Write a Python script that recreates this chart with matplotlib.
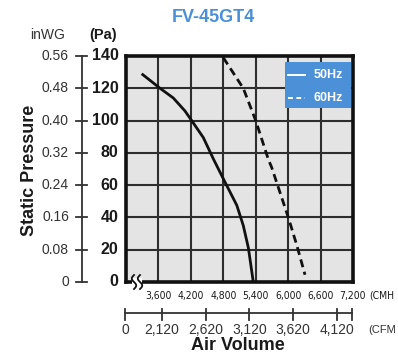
import matplotlib
matplotlib.use("Agg")
import numpy as np
import matplotlib.pyplot as plt
import matplotlib.transforms as mtransforms
from matplotlib import font_manager as fm

# ---- data ----
title = "FV-45GT4"
hz50_x = [3290, 3630, 3875, 4090, 4215, 4430, 4620, 4830, 5050, 5170, 5265, 5355]
hz50_y = [129, 120, 114, 106, 100, 89.5, 76, 62, 47.5, 35, 21, 0]
hz60_x = [4800, 5170, 5400, 5633, 5695, 6003, 6158, 6312]
hz60_y = [139, 120, 100, 76, 71, 40, 23, 4.5]
cmh_ticks = [3600, 4200, 4800, 5400, 6000, 6600, 7200]
cmh_labels = ["3,600", "4,200", "4,800", "5,400", "6,000", "6,600", "7,200"]
cfm_ticks = [2120, 2620, 3120, 3620, 4120]
cfm_labels = ["2,120", "2,620", "3,120", "3,620", "4,120"]
pa_ticks = [0, 20, 40, 60, 80, 100, 120, 140]
inwg_labels = ["0", "0.08", "0.16", "0.24", "0.32", "0.40", "0.48", "0.56"]

W, H = 398, 356
fig = plt.figure(figsize=(W / 100, H / 100), dpi=100)
fig.patch.set_facecolor("white")
sans = ["Liberation Sans", "DejaVu Sans"]

# pick a narrow font if available
narrow_kw = dict(family=sans, fontsize=7.9)
unit_kw = dict(family=sans, fontsize=7.4)
try:
    fm.findfont(fm.FontProperties(family="Liberation Sans Narrow"), fallback_to_default=False)
    narrow_kw = dict(family=["Liberation Sans Narrow"] + sans, fontsize=8.5)
    unit_kw = narrow_kw
except Exception:
    try:
        f = fm.findfont(fm.FontProperties(family="DejaVu Sans", stretch="condensed"),
                        fallback_to_default=False)
        if "Condensed" in f:
            narrow_kw = dict(family=["DejaVu Sans"], stretch="condensed", fontsize=7.5)
            unit_kw = narrow_kw
    except Exception:
        pass

def fx(px):
    return px / W

def fy(py):
    return 1 - py / H

AL, AR, AT, AB = 126, 353, 56, 282
ax = fig.add_axes([fx(AL), fy(AB), fx(AR) - fx(AL), fy(AT) - fy(AB)])
ax.set_facecolor("#e4e4e4")
ax.set_xlim(3000, 7200)
ax.set_ylim(0, 140)
for x in cmh_ticks[:-1]:
    ax.axvline(x, color="#2e2e2e", lw=1.5, zorder=1)
for y in pa_ticks[1:-1]:
    ax.axhline(y, color="#2e2e2e", lw=1.5, zorder=1)
for s in ax.spines.values():
    s.set_linewidth(2.6)
    s.set_color("#111111")
ax.set_xticks([])
ax.set_yticks([])

ax.plot(hz50_x, hz50_y, color="#111111", lw=2.0, zorder=3, solid_capstyle="butt")
ax.plot(hz60_x, hz60_y, color="#111111", lw=2.0, zorder=3, dashes=(2.9, 1.7))

# axis-break squiggles on bottom frame
pix = mtransforms.IdentityTransform()
def to_disp(px, py):
    return (px, H - py)
gap = plt.Rectangle(to_disp(132, 287), 10, 9, transform=pix, facecolor="white",
                    edgecolor="none", zorder=10, clip_on=False)
fig.add_artist(gap)
t = np.linspace(0, 1, 30)
for x0 in (134.0, 140.0):
    xs = x0 + 2.2 * np.sin(t * 2 * np.pi)
    ys = 289 - 14 * t
    fig.add_artist(plt.Line2D(xs, H - ys, transform=pix, color="#111111", lw=1.3,
                              zorder=11))

# legend box
lt = ax.transAxes
ax.add_patch(plt.Rectangle((0.700, 0.769), 0.29, 0.206, transform=lt,
                           facecolor="#4c90d8", edgecolor="none", zorder=6))
ax.plot([0.714, 0.789], [0.916, 0.916], transform=lt, color="white", lw=1.4, zorder=7)
ax.plot([0.714, 0.789], [0.813, 0.813], transform=lt, color="white", lw=1.4,
        dashes=(2.5, 1.8), zorder=7)
ax.text(0.955, 0.916, "50Hz", transform=lt, color="white", ha="right", va="center",
        fontsize=9, fontweight="bold", family=sans, zorder=7)
ax.text(0.955, 0.813, "60Hz", transform=lt, color="white", ha="right", va="center",
        fontsize=9, fontweight="bold", family=sans, zorder=7)

# title
fig.text(fx(213), fy(18), title, color="#4a90d9", fontsize=13, fontweight="bold",
         ha="center", va="center", family=sans)

# left scales
btr = mtransforms.blended_transform_factory(fig.transFigure, ax.transData)
lx = fx(82)
fig.add_artist(plt.Line2D([lx, lx], [0, 140], transform=btr, color="#333333", lw=1.3))
for v, lab in zip(pa_ticks, inwg_labels):
    fig.add_artist(plt.Line2D([fx(76), fx(87)], [v, v], transform=btr,
                              color="#333333", lw=1.3))
    fig.text(fx(118.5), v, str(v), transform=btr, ha="right", va="center",
             fontsize=11.5, fontweight="bold", family=sans, color="#1a1a1a")
    fig.text(fx(69), v, lab, transform=btr, ha="right", va="center",
             fontsize=10, family=sans, color="#333333")
fig.text(fx(48), fy(35), "inWG", ha="center", va="center", fontsize=10,
         family=sans, color="#333333")
fig.text(fx(103), fy(35), "(Pa)", ha="center", va="center", fontsize=10.5,
         fontweight="bold", family=sans, color="#1a1a1a")
fig.text(fx(30), fy(170), "Static Pressure", rotation=90, ha="center", va="center",
         fontsize=13, fontweight="bold", family=sans, color="#1a1a1a")

# bottom CMH labels
btx = mtransforms.blended_transform_factory(ax.transData, fig.transFigure)
for x, lab in zip(cmh_ticks, cmh_labels):
    fig.text(x, fy(296), lab, transform=btx, ha="center", va="center",
             color="#1a1a1a", **narrow_kw)
fig.text(fx(369), fy(296), "(CMH", ha="left", va="center", color="#1a1a1a", **unit_kw)

# CFM scale (separate broken scale)
cax = fig.add_axes([fx(125), fy(320), fx(352) - fx(125), fy(309) - fy(320)])
cax.set_xlim(1700, 4290)
cax.set_ylim(-1, 1)
cax.axis("off")
cax.plot([1700, 4290], [0.2, 0.2], color="#333333", lw=1.3, clip_on=False)
for x in [1700] + cfm_ticks + [4290]:
    cax.plot([x, x], [-1, 1], color="#333333", lw=1.3, clip_on=False)
ctr = mtransforms.blended_transform_factory(cax.transData, fig.transFigure)
fig.text(1700, fy(330), "0", transform=ctr, ha="center", va="center",
         fontsize=10, family=sans, color="#333333")
for c, lab in zip(cfm_ticks, cfm_labels):
    fig.text(c, fy(330), lab, transform=ctr, ha="center", va="center",
             fontsize=10, family=sans, color="#333333")
fig.text(fx(368), fy(330), "(CFM", ha="left", va="center", fontsize=8,
         family=sans, color="#333333")
fig.text(fx(238), fy(345), "Air Volume", ha="center", va="center", fontsize=13,
         fontweight="bold", family=sans, color="#1a1a1a")

fig.savefig("out.png", dpi=100)
